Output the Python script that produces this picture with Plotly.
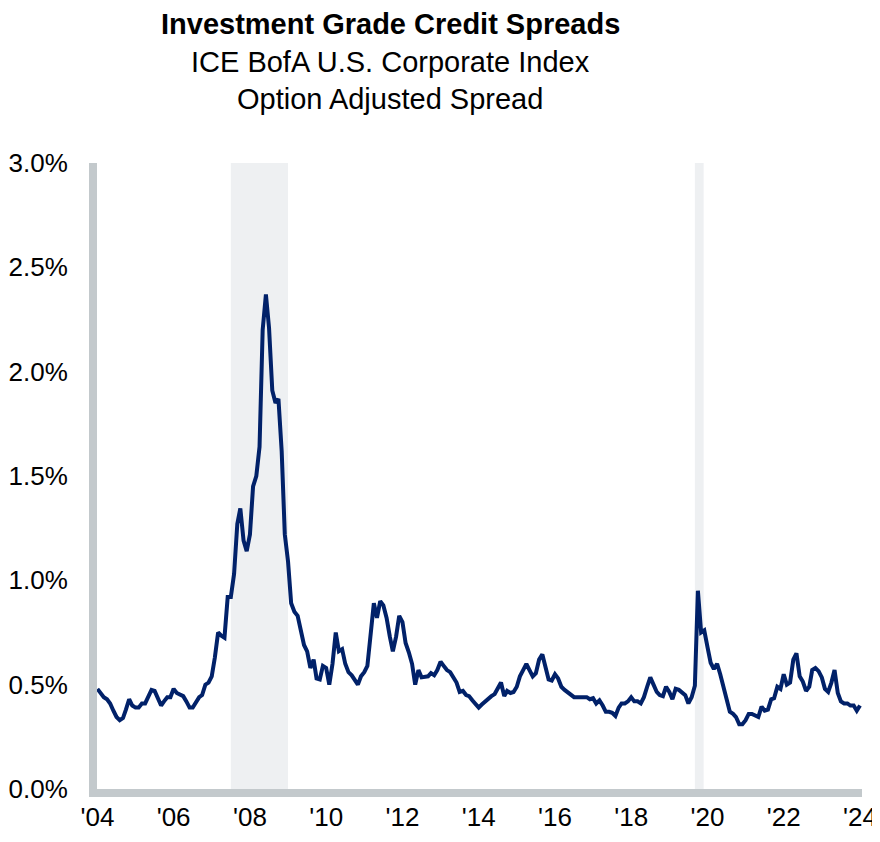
import pandas as pd
import plotly.graph_objects as go

# Monatswerte Jun 2004 - Jun 2024, OAS in Prozent
start_monat = "2004-06-01"
spread = [
    0.48, 0.46, 0.44, 0.43, 0.41, 0.375, 0.345, 0.33, 0.34, 0.38, 0.43, 0.40,
    0.39, 0.39, 0.41, 0.41, 0.44, 0.475, 0.47, 0.43, 0.40, 0.42, 0.44, 0.44,
    0.48, 0.46, 0.45, 0.445, 0.42, 0.39, 0.39, 0.42, 0.44, 0.45, 0.50, 0.51,
    0.54, 0.63, 0.75, 0.735, 0.725, 0.92, 0.92, 1.03, 1.27, 1.345, 1.19, 1.14,
    1.22, 1.45, 1.50, 1.64, 2.20, 2.37, 2.21, 1.91, 1.85, 1.87, 1.62, 1.22,
    1.09, 0.89, 0.85, 0.83, 0.76, 0.69, 0.66, 0.58, 0.62, 0.53, 0.525, 0.59,
    0.58, 0.50, 0.60, 0.75, 0.66, 0.67, 0.60, 0.56, 0.545, 0.52, 0.50, 0.54,
    0.56, 0.59, 0.72, 0.89, 0.82, 0.90, 0.88, 0.82, 0.73, 0.66, 0.73, 0.83,
    0.80, 0.70, 0.655, 0.60, 0.50, 0.57, 0.535, 0.54, 0.54, 0.555, 0.545, 0.57,
    0.61, 0.59, 0.57, 0.56, 0.535, 0.51, 0.465, 0.47, 0.45, 0.445, 0.425, 0.405,
    0.39, 0.405, 0.42, 0.435, 0.445, 0.455, 0.48, 0.51, 0.445, 0.47, 0.46, 0.465,
    0.49, 0.54, 0.57, 0.60, 0.57, 0.54, 0.555, 0.62, 0.645, 0.59, 0.525, 0.52,
    0.55, 0.53, 0.49, 0.475, 0.465, 0.455, 0.44, 0.44, 0.44, 0.44, 0.44, 0.43,
    0.435, 0.41, 0.425, 0.40, 0.37, 0.37, 0.365, 0.35, 0.39, 0.41, 0.41, 0.42,
    0.44, 0.42, 0.42, 0.41, 0.44, 0.49, 0.535, 0.50, 0.465, 0.45, 0.445, 0.49,
    0.465, 0.43, 0.48, 0.475, 0.465, 0.45, 0.41, 0.44, 0.495, 0.95, 0.75, 0.76,
    0.68, 0.605, 0.575, 0.60, 0.55, 0.495, 0.43, 0.37, 0.36, 0.345, 0.31, 0.31,
    0.33, 0.36, 0.36, 0.35, 0.345, 0.395, 0.375, 0.38, 0.43, 0.435, 0.49, 0.48,
    0.55, 0.50, 0.51, 0.62, 0.65, 0.54, 0.515, 0.47, 0.49, 0.57, 0.58, 0.565,
    0.535, 0.48, 0.465, 0.51, 0.57, 0.46, 0.42, 0.41, 0.41, 0.40, 0.40, 0.375,
    0.40,
]
monate = pd.date_range(start_monat, periods=len(spread), freq="MS")

# Rezessionen (NBER)
rezession_start = ["2007-12-01", "2020-02-01"]
rezession_ende = ["2009-06-01", "2020-04-25"]

tick_daten = [f"{j}-06-01" for j in range(2004, 2025, 2)]
tick_texte = [f"'{str(j)[2:]}" for j in range(2004, 2025, 2)]

y_ticks = [0, 0.5, 1.0, 1.5, 2.0, 2.5, 3.0]

FONT = "Liberation Sans"
GRAU_ACHSE = "#c3c9cc"

# Seite hat 8px Body-Rand -> Figur etwas kleiner
BREITE, HOEHE = 872, 834
RAND = dict(l=89, r=18, t=155, b=53)

fig = go.Figure()

for a, b in zip(rezession_start, rezession_ende):
    fig.add_vrect(x0=a, x1=b, fillcolor="#eef0f2", line_width=0, layer="below")

fig.add_trace(go.Scatter(
    x=monate,
    y=spread,
    mode="lines",
    line=dict(color="#012169", width=4),
    showlegend=False,
))

fig.update_layout(
    width=BREITE,
    height=HOEHE,
    margin=RAND,
    plot_bgcolor="white",
    paper_bgcolor="white",
    font=dict(family=FONT, color="#000000", size=26),
)

fig.update_xaxes(
    range=["2004-05-28", "2024-06-20"],
    tickvals=tick_daten,
    ticktext=tick_texte,
    showgrid=False,
    zeroline=False,
    showline=True,
    linecolor=GRAU_ACHSE,
    linewidth=8,
    ticks="",
    ticklabelstandoff=-2,
    tickfont=dict(size=26),
    automargin=False,
)

fig.update_yaxes(
    range=[0, 3],
    tickvals=y_ticks,
    ticktext=[f"{v:.1f}%" for v in y_ticks],
    showgrid=False,
    zeroline=False,
    showline=True,
    linecolor=GRAU_ACHSE,
    linewidth=8,
    ticks="",
    ticklabelstandoff=16,
    tickfont=dict(size=26),
    automargin=False,
)

plot_w = BREITE - RAND["l"] - RAND["r"]
plot_h = HOEHE - RAND["t"] - RAND["b"]
titel = [
    ("<b>Investment Grade Credit Spreads</b>", 16),
    ("ICE BofA U.S. Corporate Index", 54),
    ("Option Adjusted Spread", 91),
]
for text, y_px in titel:
    fig.add_annotation(
        text=text,
        xref="paper", yref="paper",
        x=(382 - RAND["l"]) / plot_w,
        y=1 + (RAND["t"] - y_px) / plot_h,
        xanchor="center", yanchor="middle",
        showarrow=False,
        font=dict(family=FONT, size=29, color="#000000"),
    )

fig.write_html("out.html")
